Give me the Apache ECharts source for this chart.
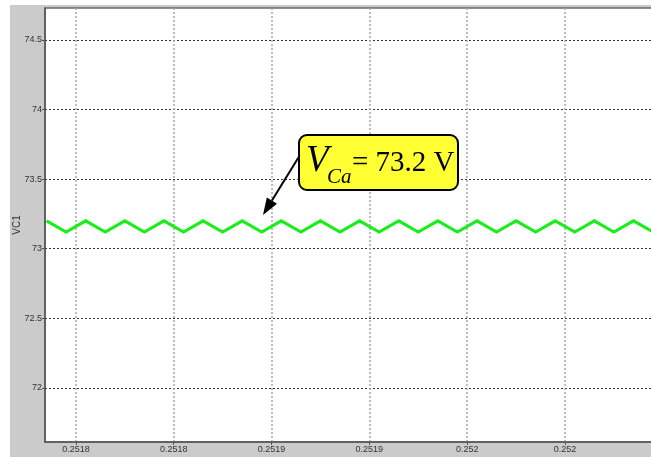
<!DOCTYPE html>
<html>
<head>
<meta charset="utf-8">
<script src="https://cdn.jsdelivr.net/npm/echarts@6/dist/echarts.min.js"></script>
<style>
  html, body { margin: 0; padding: 0; background: #fff; }
  #chart { width: 651px; height: 457px; }
</style>
</head>
<body>
<div id="chart"></div>
<script>
// Capacitor voltage VC1 over a short time window (s)
const timeValues = [
  0.251735, 0.251745, 0.251755, 0.251765, 0.251775, 0.251785, 0.251795, 0.251805,
  0.251815, 0.251825, 0.251835, 0.251845, 0.251855, 0.251865, 0.251875, 0.251885,
  0.251895, 0.251905, 0.251915, 0.251925, 0.251935, 0.251945, 0.251955, 0.251965,
  0.251975, 0.251985, 0.251995, 0.252005, 0.252015, 0.252025, 0.252035, 0.252045
];
const vcValues = [
  73.2, 73.12, 73.2, 73.12, 73.2, 73.12, 73.2, 73.12,
  73.2, 73.12, 73.2, 73.12, 73.2, 73.12, 73.2, 73.12,
  73.2, 73.12, 73.2, 73.12, 73.2, 73.12, 73.2, 73.12,
  73.2, 73.12, 73.2, 73.12, 73.2, 73.12, 73.2, 73.12
];

// Axis ticks and their printed labels
const xTickValues = [0.25175, 0.2518, 0.25185, 0.2519, 0.25195, 0.252];
const xTickLabels = ['0.2518', '0.2518', '0.2519', '0.2519', '0.252', '0.252'];
const yTickValues = [72, 72.5, 73, 73.5, 74, 74.5];
const yTickLabels = ['72', '72.5', '73', '73.5', '74', '74.5'];

const annotationValue = 73.2;

function labelFor(values, labels, v) {
  let best = 0;
  for (let i = 1; i < values.length; i++) {
    if (Math.abs(values[i] - v) < Math.abs(values[best] - v)) best = i;
  }
  return labels[best];
}

const seriesData = timeValues.map((t, i) => [t, vcValues[i]]);

const chart = echarts.init(document.getElementById('chart'), null, { renderer: 'canvas' });

// arrow geometry for the callout
const tip = [263, 215];
const tail = [300, 155];
const dx = tip[0] - tail[0], dy = tip[1] - tail[1];
const len = Math.sqrt(dx * dx + dy * dy);
const ux = dx / len, uy = dy / len;
const headLen = 17, headHalf = 6;
const base = [tip[0] - ux * headLen, tip[1] - uy * headLen];
const px = -uy, py = ux;

chart.setOption({
  backgroundColor: '#ffffff',
  animation: false,
  grid: {
    left: 45, top: 8, right: -2, bottom: 15,
    containLabel: false,
    outerBoundsMode: 'none',
    show: true,
    backgroundColor: '#ffffff',
    borderColor: '#6a6a6a',
    borderWidth: 1.5
  },
  xAxis: {
    type: 'value',
    min: 0.2517342,
    max: 0.2520450,
    axisLine: { show: true, onZero: false, lineStyle: { color: '#555', width: 1.5 } },
    axisTick: { show: true, length: 3, inside: false, customValues: xTickValues, lineStyle: { color: '#555' } },
    axisLabel: {
      customValues: xTickValues,
      formatter: v => labelFor(xTickValues, xTickLabels, v),
      fontFamily: 'Liberation Sans Narrow, Liberation Sans, Arial',
      fontSize: 9, color: '#333', margin: 3,
      showMinLabel: true, showMaxLabel: true
    },
    splitLine: { show: true, lineStyle: { color: '#a8a8a8', type: [2, 2], width: 1.5 } }
  },
  yAxis: {
    type: 'value',
    min: 71.61,
    max: 74.73,
    name: 'VC1',
    nameLocation: 'middle',
    nameGap: 23,
    nameMoveOverlap: false,
    nameTextStyle: { fontFamily: 'Liberation Sans, Arial', fontSize: 10, color: '#333' },
    axisLine: { show: true, lineStyle: { color: '#555', width: 1.5 } },
    axisTick: { show: true, length: 3, inside: false, customValues: yTickValues, lineStyle: { color: '#555' } },
    axisLabel: {
      customValues: yTickValues,
      formatter: v => labelFor(yTickValues, yTickLabels, v),
      fontFamily: 'Liberation Sans Narrow, Liberation Sans, Arial',
      fontSize: 9, color: '#333', margin: 3
    },
    splitLine: { show: true, lineStyle: { color: '#333', type: [2, 2], width: 1 } }
  },
  series: [{
    type: 'line',
    data: seriesData,
    showSymbol: false,
    symbol: 'none',
    lineStyle: { color: '#1aee1a', width: 3, join: 'miter' },
    clip: true,
    z: 3
  }],
  graphic: [
    // grey frame behind the plot
    { type: 'rect', z: -100, silent: true, shape: { x: 10, y: 5, width: 641, height: 452 }, style: { fill: '#cbcbcb' } },
    // callout arrow
    { type: 'line', z: 50, shape: { x1: tail[0], y1: tail[1], x2: base[0], y2: base[1] }, style: { stroke: '#000', lineWidth: 2 } },
    { type: 'polygon', z: 50, shape: { points: [tip, [base[0] + px * headHalf, base[1] + py * headHalf], [base[0] - px * headHalf, base[1] - py * headHalf]] }, style: { fill: '#000' } },
    // callout box
    { type: 'rect', z: 51, shape: { x: 299, y: 135, width: 159, height: 55, r: 8 }, style: { fill: '#ffff33', stroke: '#000', lineWidth: 2 } },
    { type: 'text', z: 52, x: 306, y: 161, style: { text: 'V', font: 'italic 37px "Liberation Serif", "Times New Roman", serif', fill: '#000', verticalAlign: 'middle', align: 'left' } },
    { type: 'text', z: 52, x: 327, y: 177, style: { text: 'Ca', font: 'italic 21px "Liberation Serif", "Times New Roman", serif', fill: '#000', verticalAlign: 'middle', align: 'left' } },
    { type: 'text', z: 52, x: 352, y: 163, style: { text: '= ' + annotationValue.toFixed(1) + ' V', font: '29px "Liberation Serif", "Times New Roman", serif', fill: '#000', verticalAlign: 'middle', align: 'left' } }
  ]
});
</script>
</body>
</html>
